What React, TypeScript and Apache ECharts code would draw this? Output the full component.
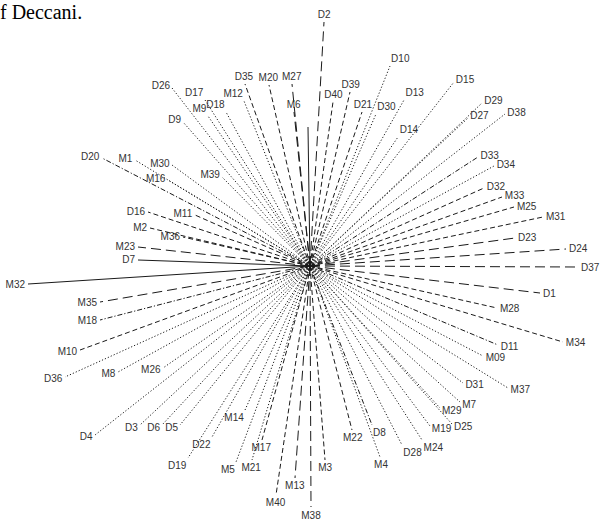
import React, { useEffect, useRef } from "react";
import * as echarts from "echarts";

const caption = "f Deccani.";

const names = [
  "D2", "D40", "D39", "D21", "D30", "D10", "D13", "D14", "D15", "D27",
  "D29", "D38", "D33", "D34", "D32", "M33", "M25", "M31", "D23", "D24",
  "D37", "D1", "M28", "M34", "D11", "M09", "M37", "D31", "M7", "M29",
  "M19", "D25", "M24", "D28", "M4", "D8", "M22", "M3", "M38", "M13",
  "M40", "M17", "M21", "M5", "M14", "D22", "D19", "D5", "D6", "D3",
  "D4", "M26", "M8", "D36", "M10", "M18", "M35", "M32", "D7", "M23",
  "M36", "M2", "M11", "D16", "D20", "M1", "M30", "M16", "M39", "D9",
  "D26", "D17", "M9", "D18", "M12", "D35", "M20", "M27", "M6", "",
];

const xs = [
  14, 23, 40, 52, 66, 80, 94, 88, 144, 158,
  172, 195, 168, 184, 174, 192, 204, 233, 205, 256,
  268, 230, 187, 253, 188, 173, 198, 153, 150, 130,
  120, 142, 112, 92, 70, 62, 42, 15, 1, -15,
  -34, -48, -58, -74, -65, -98, -122, -130, -148, -170,
  -215, -147, -192, -245, -230, -210, -210, -282, -172, -172,
  -127, -160, -115, -162, -208, -175, -138, -142, -88, -127,
  -138, -105, -102, -84, -66, -65, -41, -18, -16, -2,
];

const ys = [
  244, 164, 174, 154, 152, 200, 166, 129, 184, 148,
  163, 152, 109, 100, 78, 69, 59, 49, 28, 17,
  -1, -27, -42, -76, -79, -90, -122, -117, -136, -142,
  -160, -158, -174, -179, -191, -159, -164, -194, -241, -212,
  -229, -174, -194, -196, -144, -171, -192, -159, -159, -159,
  -169, -102, -106, -111, -84, -54, -36, -18, 6, 19,
  29, 38, 51, 54, 108, 106, 101, 86, 89, 144,
  178, 166, 150, 154, 165, 182, 181, 182, 154, 139,
];

const strokes = [
  "long", "dash", "dash", "dash", "dot", "dot", "dot", "dot", "dot", "dot",
  "dot", "dot", "dashdot", "dot", "dash", "dash", "dash", "dash", "long", "long",
  "long", "long", "dash", "dash", "dashdot", "dot", "dot", "dot", "dot", "dot",
  "dot", "dot", "dot", "dot", "dot", "dashdot", "dash", "dash", "long", "long",
  "dash", "dash", "dot", "dot", "dot", "dot", "dot", "dot", "dot", "dot",
  "dot", "dot", "dot", "dot", "dash", "dashdot", "long", "solid", "solid", "long",
  "dash", "dash", "dash", "dash", "dashdot", "dot", "dot", "dot", "dot", "dot",
  "dot", "dot", "dot", "dot", "dot", "dash", "dash", "long", "long", "solid",
];

const DASH: Record<string, number[] | null> = {
  solid: null,
  long: [10, 5],
  dash: [5, 3],
  dot: [1.2, 2],
  dashdot: [5, 2, 1.2, 2],
};

export default function App() {
  const ref = useRef<HTMLDivElement>(null);
  useEffect(() => {
    document.body.style.margin = "0";
    const chart = echarts.init(ref.current!, null, { renderer: "svg" });
    chart.setOption({
      animation: false,
      backgroundColor: "#fff",
      grid: { left: 0, right: 0, top: 0, bottom: 0 },
      xAxis: { type: "value", min: -310, max: 300, show: false },
      yAxis: { type: "value", min: -255, max: 266, show: false },
      graphic: [
        {
          type: "text",
          left: 0,
          top: 2,
          style: {
            text: caption,
            fill: "#000",
            font: '20px "Liberation Serif"',
          },
        },
      ],
      series: [
        {
          type: "custom",
          clip: false,
          data: xs.map((x, i) => [x, ys[i]]),
          renderItem: (params: any, api: any) => {
            const i = params.dataIndex;
            const o = api.coord([0, 0]);
            const p = api.coord([api.value(0), api.value(1)]);
            const dx = p[0] - o[0];
            const dy = p[1] - o[1];
            const len = Math.hypot(dx, dy) || 1;
            const ux = dx / len;
            const uy = dy / len;
            const align = ux > 0.35 ? "left" : ux < -0.35 ? "right" : "center";
            const valign = uy > 0.8 ? "top" : uy < -0.8 ? "bottom" : "middle";
            const dash = DASH[strokes[i]];
            return {
              type: "group",
              children: [
                {
                  type: "line",
                  shape: { x1: o[0], y1: o[1], x2: p[0], y2: p[1] },
                  style: {
                    stroke: "#1a1a1a",
                    lineWidth: 1,
                    lineDash: dash || undefined,
                  },
                },
                {
                  type: "text",
                  x: p[0] + ux * 3,
                  y: p[1] + uy * 3,
                  style: {
                    text: names[i],
                    fill: "#333",
                    font: '10px "Liberation Sans"',
                    align,
                    verticalAlign: valign,
                  },
                },
              ],
            };
          },
        },
      ],
    });
    return () => chart.dispose();
  }, []);
  return <div ref={ref} style={{ width: 610, height: 521 }} />;
}
